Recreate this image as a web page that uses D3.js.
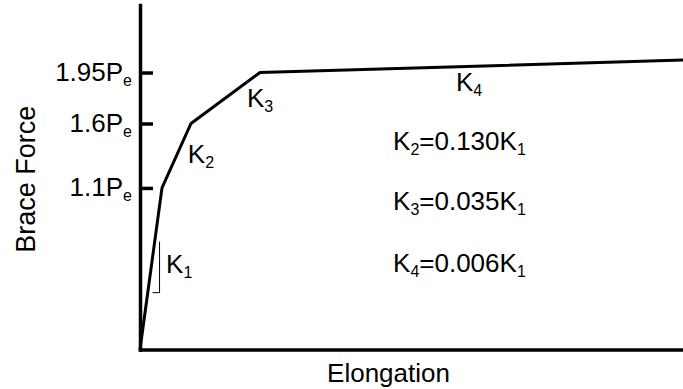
<!DOCTYPE html>
<html>
<head>
<meta charset="utf-8">
<script src="https://cdn.jsdelivr.net/npm/d3@7"></script>
<style>
    body { margin: 0; background: #fff; }
    svg { display: block; font-family: Arial, "Liberation Sans", sans-serif; }
</style>
</head>
<body>
<div id="chart"></div>
<script>
    // schematic units: both axes run 0..100 along the drawn axis length
    const elongation = [0, 4.05, 9.39, 22.1, 100];
    const braceForce = [0, 46.9, 65.6, 80.4, 84.0];
    const forceTicks = [46.9, 65.6, 80.4];
    const forceTickLabels = ["1.1", "1.6", "1.95"];
    const ratioNames = ["2", "3", "4"];
    const ratioValues = ["0.130", "0.035", "0.006"];

    const FONT_SIZE = 26;
    const SUB_SIZE = 16;
    const SUB_SHIFT = 5;

    var width = 683, height = 389;
    var plotLeft = 140, plotRight = 683, plotTop = 5, plotBottom = 349.5;

    var svg = d3.select("#chart").append("svg")
        .attr("width", width)
        .attr("height", height);

    var x = d3.scaleLinear().domain([0, 100]).range([plotLeft, plotRight]);
    var y = d3.scaleLinear().domain([0, 100]).range([plotBottom, plotTop]);

    // write "main" + subscript into a text element
    function subText(sel, main, sub, tail, tailSub) {
        sel.text(null);
        sel.append("tspan").text(main);
        sel.append("tspan").attr("font-size", SUB_SIZE).attr("dy", SUB_SHIFT).text(sub);
        if (tail !== undefined) {
            sel.append("tspan").attr("dy", -SUB_SHIFT).text(tail);
            sel.append("tspan").attr("font-size", SUB_SIZE).attr("dy", SUB_SHIFT).text(tailSub);
        }
    }

    // y axis with inward ticks
    var yAxis = svg.append("g")
        .attr("transform", "translate(" + plotLeft + ",0)")
        .call(d3.axisLeft(y)
            .tickValues(forceTicks)
            .tickSize(-13)
            .tickSizeOuter(0)
            .tickPadding(8));

    yAxis.attr("font-family", null).attr("font-size", null);
    yAxis.select(".domain").attr("stroke", "#000").attr("stroke-width", 3.5).attr("stroke-linecap", "square");
    yAxis.selectAll(".tick line").attr("stroke", "#000").attr("stroke-width", 3.5);
    yAxis.selectAll(".tick text")
        .attr("font-size", FONT_SIZE)
        .attr("fill", "#000")
        .attr("dy", 8)
        .each(function (d, i) {
            subText(d3.select(this), forceTickLabels[i] + "P", "e");
        });

    // x axis, no ticks
    var xAxis = svg.append("g")
        .attr("transform", "translate(0," + plotBottom + ")")
        .call(d3.axisBottom(x).tickValues([]).tickSizeOuter(0));
    xAxis.select(".domain").attr("stroke", "#000").attr("stroke-width", 3.5).attr("stroke-linecap", "square");

    // axis titles
    svg.append("text")
        .attr("transform", "translate(35," + ((plotTop + plotBottom) / 2 + 2) + ") rotate(-90)")
        .attr("text-anchor", "middle")
        .attr("font-size", 27)
        .text("Brace Force");

    svg.append("text")
        .attr("x", (plotLeft + plotRight) / 2 - 23)
        .attr("y", 382)
        .attr("text-anchor", "middle")
        .attr("font-size", FONT_SIZE)
        .text("Elongation");

    // multi-linear curve
    var line = d3.line()
        .x(d => x(d[0]))
        .y(d => y(d[1]));

    svg.append("path")
        .datum(d3.zip(elongation, braceForce))
        .attr("fill", "none")
        .attr("stroke", "#000")
        .attr("stroke-width", 3)
        .attr("stroke-linejoin", "miter")
        .attr("d", line);

    // slope marker beside K1
    svg.append("path")
        .attr("fill", "none")
        .attr("stroke", "#000")
        .attr("stroke-width", 1)
        .attr("d", d3.line()([[x(2.3), y(16.5)], [x(3.6), y(16.5)], [x(3.6), y(31.3)]]));

    // segment labels
    var segLabels = [
        { n: "1", px: 4.8, py: 22.2 },
        { n: "2", px: 8.8, py: 54.2 },
        { n: "3", px: 19.7, py: 70.4 },
        { n: "4", px: 58.2, py: 75.1 }
    ];
    segLabels.forEach(d => {
        svg.append("text")
            .attr("x", x(d.px))
            .attr("y", y(d.py))
            .attr("font-size", FONT_SIZE)
            .call(subText, "K", d.n);
    });

    // stiffness ratios
    var ratioY = [57.9, 40.5, 22.5];
    ratioNames.forEach((n, i) => {
        svg.append("text")
            .attr("x", x(46.6))
            .attr("y", y(ratioY[i]))
            .attr("font-size", FONT_SIZE)
            .call(subText, "K", n, "=" + ratioValues[i] + "K", "1");
    });
</script>
</body>
</html>
